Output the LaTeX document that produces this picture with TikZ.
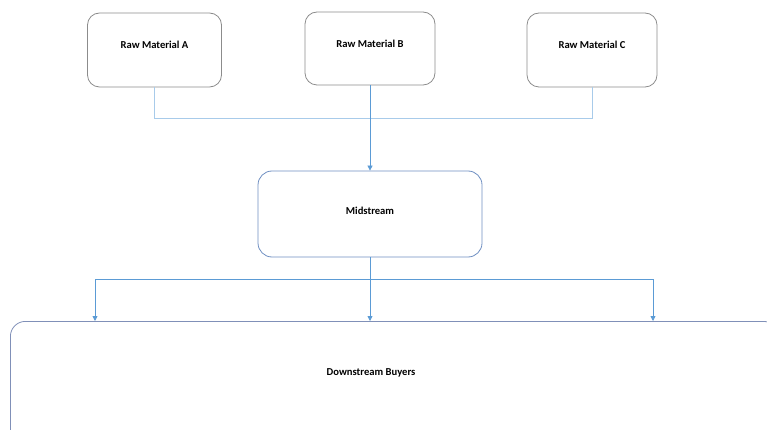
\documentclass[tikz,border=0pt]{standalone}
\usepackage{fontspec}
\setmainfont{Carlito}
\usetikzlibrary{arrows.meta}
\definecolor{boxgray}{HTML}{8C8C8C}
\definecolor{midblue}{HTML}{6F8FC2}
\definecolor{downblue}{HTML}{8090B8}
\definecolor{lineblue}{HTML}{5B9BD5}
\definecolor{lightline}{HTML}{A8CBEA}
\tikzset{
  txt/.style={font=\bfseries\fontsize{10.6}{12}\selectfont},
  rawbox/.style={txt, draw=boxgray, line width=0.8pt, rounded corners=12pt, minimum width=134pt, minimum height=74pt, text depth=10pt, inner sep=0pt},
  midbox/.style={draw=midblue, line width=0.8pt, rounded corners=14pt, minimum width=224pt, minimum height=86pt, inner sep=0pt},
  downbox/.style={draw=downblue, line width=0.8pt, rounded corners=15pt, minimum width=768pt, minimum height=140pt, inner sep=0pt},
  lbl/.style={txt, inner sep=0pt},
  conn/.style={draw=lineblue, line width=0.8pt},
  lconn/.style={draw=lightline, line width=0.8pt},
  arr/.style={conn, -{Triangle[length=5pt,width=5pt]}}
}
\begin{document}
\begin{tikzpicture}[x=1pt,y=-1pt]
\useasboundingbox (0,0) rectangle (767,430);
\clip (0,0) rectangle (767,430);
\node[rawbox] (A) at (154.5,50) {Raw Material A};
\node[rawbox, minimum width=130pt, minimum height=73pt] (B) at (370,48.5) {Raw Material B};
\node[rawbox, minimum width=130pt] (C) at (592,50) {Raw Material C};
\node[midbox] (M) at (370,214) {};
\node[lbl] (mlab) at (370,211) {Midstream};
\node[downbox, anchor=north west] (D) at (10,321) {};
\node[lbl] (dlab) at (371,373) {Downstream Buyers};
\coordinate (ja) at (154.5,118);
\coordinate (jc) at (592,118);
\coordinate (jm) at (370,279);
\coordinate (jl) at (95,279);
\coordinate (jr) at (653,279);
\coordinate (tl) at (95,321);
\coordinate (tr) at (653,321);
\coordinate (tm) at (370,321);
\draw[lconn] (A.south) -- (ja) -- (jc) -- (C.south);
\draw[arr] (B.south) -- (M.north);
\draw[arr] (M.south) -- (tm);
\draw[conn] (jm) -- (jl);
\draw[arr] (jl) -- (tl);
\draw[conn] (jm) -- (jr);
\draw[arr] (jr) -- (tr);
\end{tikzpicture}
\end{document}
